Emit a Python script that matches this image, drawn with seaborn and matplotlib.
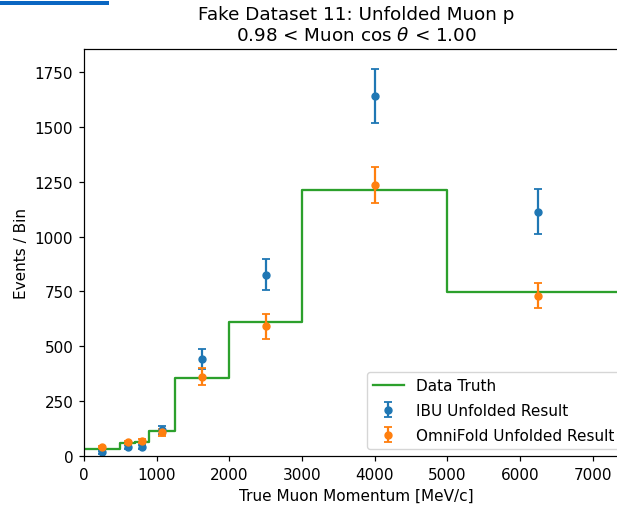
import matplotlib
matplotlib.use("Agg")
import matplotlib.pyplot as plt
from matplotlib.patches import Rectangle
import numpy as np
import pandas as pd
import seaborn as sns

# Momentum bin edges [MeV/c] and bin centres
bin_edges = [0, 500, 700, 900, 1250, 2000, 3000, 5000, 7500]
bin_centers = [250, 600, 800, 1075, 1625, 2500, 4000, 6250]

# Truth content per bin
truth_counts = [34, 60, 62, 114, 355, 610, 1212, 748]

# IBU unfolded result and its uncertainties
ibu_counts = [17, 43, 43, 120, 442, 827, 1642, 1113]
ibu_errors = [6, 9, 9, 18, 45, 70, 122, 103]

# OmniFold unfolded result and its uncertainties
omni_counts = [40, 62, 68, 108, 362, 591, 1235, 730]
omni_errors = [5, 7, 8, 15, 40, 57, 82, 57]

title_text = "Fake Dataset 11: Unfolded Muon p\n0.98 < Muon cos $\\theta$ < 1.00"
x_label = "True Muon Momentum [MeV/c]"
y_label = "Events / Bin"

S = 1.1  # overall scale of text and line weights
FS = 10 * S

fig = plt.figure(figsize=(6.17, 5.06), dpi=100)
W, H = 617.0, 506.0
ax = fig.add_axes([84 / W, (H - 457) / H, (629 - 84) / W, (457 - 50) / H])

# Step histogram for the truth (repeat last value to close the final bin)
truth_df = pd.DataFrame({
    "edge": bin_edges,
    "count": truth_counts + [truth_counts[-1]],
})
sns.lineplot(data=truth_df, x="edge", y="count", drawstyle="steps-post",
             color="#2ca02c", linewidth=1.5 * S, label="Data Truth", ax=ax)

ax.errorbar(bin_centers, ibu_counts, yerr=ibu_errors, fmt="o", color="#1f77b4",
            capsize=3, markersize=5, elinewidth=1.6, capthick=1.3,
            label="IBU Unfolded Result")
ax.errorbar(bin_centers, omni_counts, yerr=omni_errors, fmt="o", color="#ff7f0e",
            capsize=3, markersize=5, elinewidth=1.6, capthick=1.3,
            label="OmniFold Unfolded Result")

ax.set_xlim(0, 7500)
ax.set_ylim(0, 1855)
ax.set_xticks([0, 1000, 2000, 3000, 4000, 5000, 6000, 7000])
ax.set_yticks([0, 250, 500, 750, 1000, 1250, 1500, 1750])
ax.set_xlabel(x_label, fontsize=FS, labelpad=4 * S)
ax.set_ylabel(y_label, fontsize=FS, labelpad=4 * S)
ax.set_title(title_text, fontsize=12 * S, pad=6 * S)
ax.tick_params(labelsize=FS, length=3.5 * S, width=0.8 * S, pad=3.5 * S)
for spine in ax.spines.values():
    spine.set_linewidth(0.8 * S)
ax.legend(loc="lower left", fontsize=FS, borderaxespad=0, labelspacing=0.65,
          bbox_to_anchor=(367 / W, (H - 450) / H), bbox_transform=fig.transFigure)

# Accent bar in the top-left corner
fig.patches.append(Rectangle((0, 1 - 6 / H), 109 / W, 4 / H, transform=fig.transFigure,
                             facecolor="#0a66c2", edgecolor="none"))

fig.savefig("out.png", dpi=100)
